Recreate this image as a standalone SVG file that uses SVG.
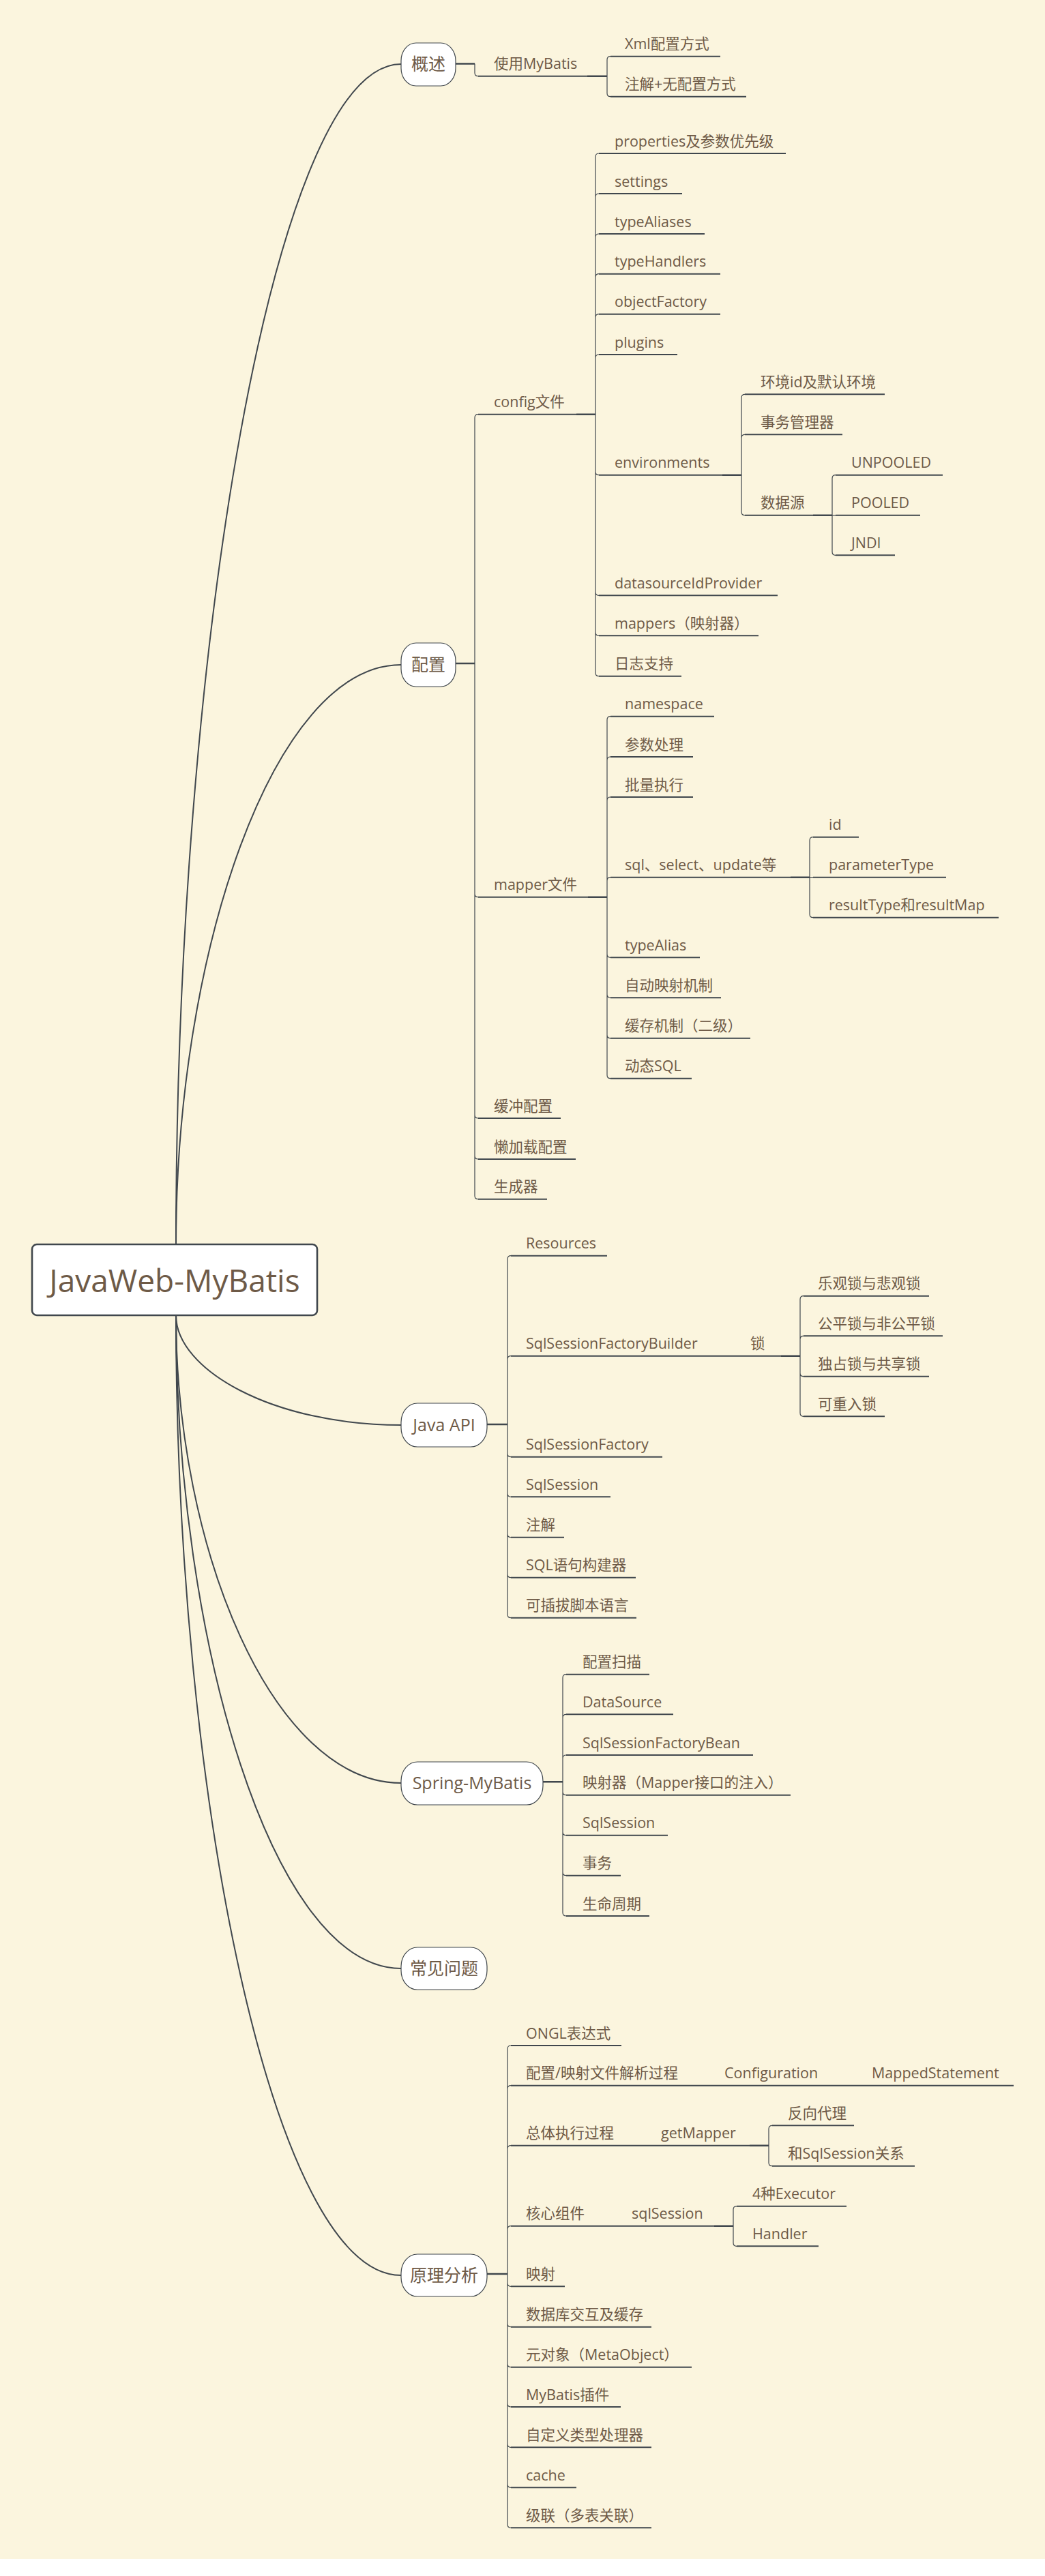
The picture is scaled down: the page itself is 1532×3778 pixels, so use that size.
<svg xmlns="http://www.w3.org/2000/svg" width="1532" height="3778" viewBox="0 0 1532 3778">
<style>
.bg{fill:#fbf5de}
.t{font-family:"Open Sans","Noto Sans CJK SC",sans-serif;font-size:21.5px;fill:#6e5a47}
.m{font-family:"Open Sans","Noto Sans CJK SC",sans-serif;font-size:25px;fill:#6e5a47;text-anchor:middle}
.r{font-family:"Open Sans","Noto Sans CJK SC",sans-serif;font-size:46px;fill:#6e5a47;text-anchor:middle}
.u{stroke:#40474d;stroke-width:2;fill:none}
.s{stroke:#40474d;stroke-width:1.2;fill:none}
.j{stroke:#40474d;stroke-width:2.6;fill:none}
.k{stroke:#40474d;stroke-width:2;fill:none}
.n{fill:#fff;stroke:#40474d;stroke-width:1.2}
.rt{fill:#fff;stroke:#40474d;stroke-width:2.6}
</style>
<rect x="0" y="0" width="1532" height="3778" fill="#ffffff"/>
<rect class="bg" x="0" y="0" width="1532" height="3753"/>

<g id="connectors">
<path class="k" d="M258,1825 C258,960 400,94 588,94"/>
<path class="k" d="M258,1825 C258,1400 400,975 588,975"/>
<path class="k" d="M258,1929 C258,2009 400,2090 588,2090"/>
<path class="k" d="M258,1929 C258,2272 400,2615 588,2615"/>
<path class="k" d="M258,1929 C258,2408 400,2887 588,2887"/>
<path class="k" d="M258,1929 C258,2633 400,3337 588,3337"/>
<path class="j" d="M668,93.5H696 M861,111.7H890 M668,973H696 M845,607.7H873 M1059,696.7H1087 M1192,755.7H1220 M862,1315.7H890 M1159,1286.7H1187 M714,2089H744 M1145,1988.7H1173 M796,2613.3H825 M714,3335H744 M1099,3146.7H1127 M1047,3264.7H1075"/>
<path class="s" d="M696,93.5V106.7Q696,111.7 701,111.7"/>
<path class="s" d="M890,87.7V136.7 M890,87.7Q890,82.7 895,82.7 M890,136.7Q890,141.7 895,141.7"/>
<path class="s" d="M696,612.7V1753.7 M696,612.7Q696,607.7 701,607.7 M696,1310.7Q696,1315.7 701,1315.7 M696,1635Q696,1640 701,1640 M696,1695Q696,1700 701,1700 M696,1753.7Q696,1758.7 701,1758.7"/>
<path class="s" d="M873,230V986.7 M873,230Q873,225 878,225 M873,289Q873,284 878,284 M873,348Q873,343 878,343 M873,406.7Q873,401.7 878,401.7 M873,465.7Q873,460.7 878,460.7 M873,525Q873,520 878,520 M873,691.7Q873,696.7 878,696.7 M873,868.3Q873,873.3 878,873.3 M873,927.3Q873,932.3 878,932.3 M873,986.7Q873,991.7 878,991.7"/>
<path class="s" d="M1087,583.3V750.7 M1087,583.3Q1087,578.3 1092,578.3 M1087,642.3Q1087,637.3 1092,637.3 M1087,750.7Q1087,755.7 1092,755.7"/>
<path class="s" d="M1220,701.7V809.3 M1220,701.7Q1220,696.7 1225,696.7 M1220,755.7H1225 M1220,809.3Q1220,814.3 1225,814.3"/>
<path class="s" d="M890,1055.7V1576.7 M890,1055.7Q890,1050.7 895,1050.7 M890,1115Q890,1110 895,1110 M890,1174Q890,1169 895,1169 M890,1291.7Q890,1286.7 895,1286.7 M890,1399.3Q890,1404.3 895,1404.3 M890,1458.3Q890,1463.3 895,1463.3 M890,1517.7Q890,1522.7 895,1522.7 M890,1576.7Q890,1581.7 895,1581.7"/>
<path class="s" d="M1187,1232.7V1340.7 M1187,1232.7Q1187,1227.7 1192,1227.7 M1187,1286.7H1192 M1187,1340.7Q1187,1345.7 1192,1345.7"/>
<path class="s" d="M744,1846.7V2367.7 M744,1846.7Q744,1841.7 749,1841.7 M744,1993.7Q744,1988.7 749,1988.7 M744,2131.7Q744,2136.7 749,2136.7 M744,2190.3Q744,2195.3 749,2195.3 M744,2249.7Q744,2254.7 749,2254.7 M744,2308.7Q744,2313.7 749,2313.7 M744,2367.7Q744,2372.7 749,2372.7"/>
<path class="s" d="M1173,1905.7V2072.3 M1173,1905.7Q1173,1900.7 1178,1900.7 M1173,1964.3Q1173,1959.3 1178,1959.3 M1173,2013.7Q1173,2018.7 1178,2018.7 M1173,2072.3Q1173,2077.3 1178,2077.3"/>
<path class="s" d="M825,2460.7V2805 M825,2460.7Q825,2455.7 830,2455.7 M825,2519.3Q825,2514.3 830,2514.3 M825,2579Q825,2574 830,2574 M825,2627.7Q825,2632.7 830,2632.7 M825,2686.7Q825,2691.7 830,2691.7 M825,2745.7Q825,2750.7 830,2750.7 M825,2805Q825,2810 830,2810"/>
<path class="s" d="M744,3005V3702.3 M744,3005Q744,3000 749,3000 M744,3063.7Q744,3058.7 749,3058.7 M744,3151.7Q744,3146.7 749,3146.7 M744,3269.7Q744,3264.7 749,3264.7 M744,3348.3Q744,3353.3 749,3353.3 M744,3407.7Q744,3412.7 749,3412.7 M744,3466.7Q744,3471.7 749,3471.7 M744,3525Q744,3530 749,3530 M744,3584.3Q744,3589.3 749,3589.3 M744,3643.3Q744,3648.3 749,3648.3 M744,3702.3Q744,3707.3 749,3707.3"/>
<path class="s" d="M1127,3122.3V3171.7 M1127,3122.3Q1127,3117.3 1132,3117.3 M1127,3171.7Q1127,3176.7 1132,3176.7"/>
<path class="s" d="M1075,3240.7V3289.3 M1075,3240.7Q1075,3235.7 1080,3235.7 M1075,3289.3Q1075,3294.3 1080,3294.3"/>
</g>

<g id="root"><rect class="rt" x="47" y="1825" width="418" height="104" rx="7"/><text class="r" x="256" y="1895">JavaWeb-MyBatis</text></g>

<g id="b-overview"><rect class="n" x="588" y="63" width="80" height="63" rx="22" ry="26"/><text class="m" x="628" y="103">概述</text></g>
<g id="b-config"><rect class="n" x="588" y="943" width="80" height="64" rx="22" ry="26"/><text class="m" x="628" y="984">配置</text></g>
<g id="b-javaapi"><rect class="n" x="588" y="2058" width="126" height="64" rx="24" ry="28"/><text class="m" x="651" y="2099">Java API</text></g>
<g id="b-spring"><rect class="n" x="588" y="2584" width="208" height="63" rx="24" ry="28"/><text class="m" x="692" y="2624">Spring-MyBatis</text></g>
<g id="b-faq"><rect class="n" x="588" y="2856" width="126" height="62" rx="24" ry="28"/><text class="m" x="651" y="2896">常见问题</text></g>
<g id="b-principle"><rect class="n" x="588" y="3306" width="126" height="62" rx="24" ry="28"/><text class="m" x="651" y="3346">原理分析</text></g>

<g id="n-use"><text class="t" x="724" y="101.2">使用MyBatis</text><line class="u" x1="701" y1="111.7" x2="861" y2="111.7"/></g>
<g id="n-xml"><text class="t" x="916" y="72.2">Xml配置方式</text><line class="u" x1="895" y1="82.7" x2="1056" y2="82.7"/></g>
<g id="n-anno"><text class="t" x="916" y="131.2">注解+无配置方式</text><line class="u" x1="895" y1="141.7" x2="1094" y2="141.7"/></g>

<g id="n-configfile"><text class="t" x="724" y="597.2">config文件</text><line class="u" x1="701" y1="607.7" x2="845" y2="607.7"/></g>
<g id="n-props"><text class="t" x="901" y="214.5">properties及参数优先级</text><line class="u" x1="878" y1="225" x2="1152" y2="225"/></g>
<g id="n-settings"><text class="t" x="901" y="273.5">settings</text><line class="u" x1="878" y1="284" x2="1000" y2="284"/></g>
<g id="n-typeAliases"><text class="t" x="901" y="332.5">typeAliases</text><line class="u" x1="878" y1="343" x2="1033" y2="343"/></g>
<g id="n-typeHandlers"><text class="t" x="901" y="391.2">typeHandlers</text><line class="u" x1="878" y1="401.7" x2="1056" y2="401.7"/></g>
<g id="n-objectFactory"><text class="t" x="901" y="450.2">objectFactory</text><line class="u" x1="878" y1="460.7" x2="1056" y2="460.7"/></g>
<g id="n-plugins"><text class="t" x="901" y="509.5">plugins</text><line class="u" x1="878" y1="520" x2="993" y2="520"/></g>
<g id="n-env"><text class="t" x="901" y="686.2">environments</text><line class="u" x1="878" y1="696.7" x2="1059" y2="696.7"/></g>
<g id="n-envid"><text class="t" x="1115" y="567.8">环境id及默认环境</text><line class="u" x1="1092" y1="578.3" x2="1297" y2="578.3"/></g>
<g id="n-tx"><text class="t" x="1115" y="626.8">事务管理器</text><line class="u" x1="1092" y1="637.3" x2="1235" y2="637.3"/></g>
<g id="n-ds"><text class="t" x="1115" y="745.2">数据源</text><line class="u" x1="1092" y1="755.7" x2="1192" y2="755.7"/></g>
<g id="n-unpooled"><text class="t" x="1248" y="686.2">UNPOOLED</text><line class="u" x1="1225" y1="696.7" x2="1382" y2="696.7"/></g>
<g id="n-pooled"><text class="t" x="1248" y="745.2">POOLED</text><line class="u" x1="1225" y1="755.7" x2="1349" y2="755.7"/></g>
<g id="n-jndi"><text class="t" x="1248" y="803.8">JNDI</text><line class="u" x1="1225" y1="814.3" x2="1312" y2="814.3"/></g>
<g id="n-dsid"><text class="t" x="901" y="862.8">datasourceIdProvider</text><line class="u" x1="878" y1="873.3" x2="1140" y2="873.3"/></g>
<g id="n-mappers"><text class="t" x="901" y="921.8">mappers（映射器）</text><line class="u" x1="878" y1="932.3" x2="1112" y2="932.3"/></g>
<g id="n-log"><text class="t" x="901" y="981.2">日志支持</text><line class="u" x1="878" y1="991.7" x2="999" y2="991.7"/></g>

<g id="n-mapperfile"><text class="t" x="724" y="1305.2">mapper文件</text><line class="u" x1="701" y1="1315.7" x2="862" y2="1315.7"/></g>
<g id="n-ns"><text class="t" x="916" y="1040.2">namespace</text><line class="u" x1="895" y1="1050.7" x2="1047" y2="1050.7"/></g>
<g id="n-param"><text class="t" x="916" y="1099.5">参数处理</text><line class="u" x1="895" y1="1110" x2="1016" y2="1110"/></g>
<g id="n-batch"><text class="t" x="916" y="1158.5">批量执行</text><line class="u" x1="895" y1="1169" x2="1016" y2="1169"/></g>
<g id="n-sql"><text class="t" x="916" y="1276.2">sql、select、update等</text><line class="u" x1="895" y1="1286.7" x2="1159" y2="1286.7"/></g>
<g id="n-id"><text class="t" x="1215" y="1217.2">id</text><line class="u" x1="1192" y1="1227.7" x2="1259" y2="1227.7"/></g>
<g id="n-ptype"><text class="t" x="1215" y="1276.2">parameterType</text><line class="u" x1="1192" y1="1286.7" x2="1387" y2="1286.7"/></g>
<g id="n-rtype"><text class="t" x="1215" y="1335.2">resultType和resultMap</text><line class="u" x1="1192" y1="1345.7" x2="1464" y2="1345.7"/></g>
<g id="n-alias"><text class="t" x="916" y="1393.8">typeAlias</text><line class="u" x1="895" y1="1404.3" x2="1026" y2="1404.3"/></g>
<g id="n-automap"><text class="t" x="916" y="1452.8">自动映射机制</text><line class="u" x1="895" y1="1463.3" x2="1057" y2="1463.3"/></g>
<g id="n-cache2"><text class="t" x="916" y="1512.2">缓存机制（二级）</text><line class="u" x1="895" y1="1522.7" x2="1100" y2="1522.7"/></g>
<g id="n-dsql"><text class="t" x="916" y="1571.2">动态SQL</text><line class="u" x1="895" y1="1581.7" x2="1014" y2="1581.7"/></g>
<g id="n-buffer"><text class="t" x="724" y="1629.5">缓冲配置</text><line class="u" x1="701" y1="1640" x2="822" y2="1640"/></g>
<g id="n-lazy"><text class="t" x="724" y="1689.5">懒加载配置</text><line class="u" x1="701" y1="1700" x2="844" y2="1700"/></g>
<g id="n-gen"><text class="t" x="724" y="1748.2">生成器</text><line class="u" x1="701" y1="1758.7" x2="802" y2="1758.7"/></g>

<g id="n-res"><text class="t" x="771" y="1831.2">Resources</text><line class="u" x1="749" y1="1841.7" x2="890" y2="1841.7"/></g>
<g id="n-ssfb"><text class="t" x="771" y="1978.2">SqlSessionFactoryBuilder</text><line class="u" x1="749" y1="1988.7" x2="1044" y2="1988.7"/></g>
<g id="n-lock"><text class="t" x="1100" y="1978.2">锁</text><line class="u" x1="1044" y1="1988.7" x2="1145" y2="1988.7"/></g>
<g id="n-opt"><text class="t" x="1199" y="1890.2">乐观锁与悲观锁</text><line class="u" x1="1178" y1="1900.7" x2="1362" y2="1900.7"/></g>
<g id="n-fair"><text class="t" x="1199" y="1948.8">公平锁与非公平锁</text><line class="u" x1="1178" y1="1959.3" x2="1382" y2="1959.3"/></g>
<g id="n-excl"><text class="t" x="1199" y="2008.2">独占锁与共享锁</text><line class="u" x1="1178" y1="2018.7" x2="1362" y2="2018.7"/></g>
<g id="n-reent"><text class="t" x="1199" y="2066.8">可重入锁</text><line class="u" x1="1178" y1="2077.3" x2="1297" y2="2077.3"/></g>
<g id="n-ssf"><text class="t" x="771" y="2126.2">SqlSessionFactory</text><line class="u" x1="749" y1="2136.7" x2="971" y2="2136.7"/></g>
<g id="n-ss"><text class="t" x="771" y="2184.8">SqlSession</text><line class="u" x1="749" y1="2195.3" x2="895" y2="2195.3"/></g>
<g id="n-ann"><text class="t" x="771" y="2244.2">注解</text><line class="u" x1="749" y1="2254.7" x2="827" y2="2254.7"/></g>
<g id="n-sqlb"><text class="t" x="771" y="2303.2">SQL语句构建器</text><line class="u" x1="749" y1="2313.7" x2="932" y2="2313.7"/></g>
<g id="n-script"><text class="t" x="771" y="2362.2">可插拔脚本语言</text><line class="u" x1="749" y1="2372.7" x2="933" y2="2372.7"/></g>

<g id="n-scan"><text class="t" x="854" y="2445.2">配置扫描</text><line class="u" x1="830" y1="2455.7" x2="952" y2="2455.7"/></g>
<g id="n-dsrc"><text class="t" x="854" y="2503.8">DataSource</text><line class="u" x1="830" y1="2514.3" x2="987" y2="2514.3"/></g>
<g id="n-ssfbean"><text class="t" x="854" y="2563.5">SqlSessionFactoryBean</text><line class="u" x1="830" y1="2574" x2="1104" y2="2574"/></g>
<g id="n-mapinj"><text class="t" x="854" y="2622.2">映射器（Mapper接口的注入）</text><line class="u" x1="830" y1="2632.7" x2="1159" y2="2632.7"/></g>
<g id="n-sss"><text class="t" x="854" y="2681.2">SqlSession</text><line class="u" x1="830" y1="2691.7" x2="979" y2="2691.7"/></g>
<g id="n-stx"><text class="t" x="854" y="2740.2">事务</text><line class="u" x1="830" y1="2750.7" x2="910" y2="2750.7"/></g>
<g id="n-life"><text class="t" x="854" y="2799.5">生命周期</text><line class="u" x1="830" y1="2810" x2="952" y2="2810"/></g>

<g id="n-ognl"><text class="t" x="771" y="2989.5">ONGL表达式</text><line class="u" x1="749" y1="3000" x2="911" y2="3000"/></g>
<g id="n-parse"><text class="t" x="771" y="3048.2">配置/映射文件解析过程</text><line class="u" x1="749" y1="3058.7" x2="1006" y2="3058.7"/></g>
<g id="n-cfg"><text class="t" x="1062" y="3048.2">Configuration</text><line class="u" x1="1006" y1="3058.7" x2="1222" y2="3058.7"/></g>
<g id="n-ms"><text class="t" x="1278" y="3048.2">MappedStatement</text><line class="u" x1="1222" y1="3058.7" x2="1486" y2="3058.7"/></g>
<g id="n-exec"><text class="t" x="771" y="3136.2">总体执行过程</text><line class="u" x1="749" y1="3146.7" x2="912" y2="3146.7"/></g>
<g id="n-getm"><text class="t" x="969" y="3136.2">getMapper</text><line class="u" x1="912" y1="3146.7" x2="1099" y2="3146.7"/></g>
<g id="n-proxy"><text class="t" x="1155" y="3106.8">反向代理</text><line class="u" x1="1132" y1="3117.3" x2="1252" y2="3117.3"/></g>
<g id="n-rel"><text class="t" x="1155" y="3166.2">和SqlSession关系</text><line class="u" x1="1132" y1="3176.7" x2="1341" y2="3176.7"/></g>
<g id="n-core"><text class="t" x="771" y="3254.2">核心组件</text><line class="u" x1="749" y1="3264.7" x2="869" y2="3264.7"/></g>
<g id="n-sqls"><text class="t" x="926" y="3254.2">sqlSession</text><line class="u" x1="869" y1="3264.7" x2="1047" y2="3264.7"/></g>
<g id="n-4exec"><text class="t" x="1103" y="3225.2">4种Executor</text><line class="u" x1="1080" y1="3235.7" x2="1241" y2="3235.7"/></g>
<g id="n-handler"><text class="t" x="1103" y="3283.8">Handler</text><line class="u" x1="1080" y1="3294.3" x2="1200" y2="3294.3"/></g>
<g id="n-map"><text class="t" x="771" y="3342.8">映射</text><line class="u" x1="749" y1="3353.3" x2="828" y2="3353.3"/></g>
<g id="n-db"><text class="t" x="771" y="3402.2">数据库交互及缓存</text><line class="u" x1="749" y1="3412.7" x2="955" y2="3412.7"/></g>
<g id="n-meta"><text class="t" x="771" y="3461.2">元对象（MetaObject）</text><line class="u" x1="749" y1="3471.7" x2="1014" y2="3471.7"/></g>
<g id="n-plug"><text class="t" x="771" y="3519.5">MyBatis插件</text><line class="u" x1="749" y1="3530" x2="910" y2="3530"/></g>
<g id="n-cth"><text class="t" x="771" y="3578.8">自定义类型处理器</text><line class="u" x1="749" y1="3589.3" x2="955" y2="3589.3"/></g>
<g id="n-cache"><text class="t" x="771" y="3637.8">cache</text><line class="u" x1="749" y1="3648.3" x2="845" y2="3648.3"/></g>
<g id="n-casc"><text class="t" x="771" y="3696.8">级联（多表关联）</text><line class="u" x1="749" y1="3707.3" x2="955" y2="3707.3"/></g>
</svg>
